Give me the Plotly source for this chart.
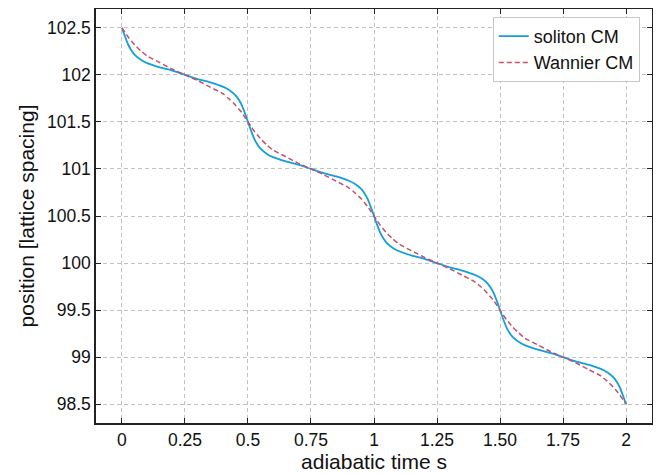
import plotly.graph_objects as go

# adiabatic time s
t_s = [
    0.0, 0.0125, 0.025, 0.0375, 0.05, 0.075, 0.1, 0.15, 0.2, 0.25, 0.3, 0.35, 0.4, 0.425, 0.45, 0.4625, 0.475, 0.4875,
    0.5, 0.5125, 0.525, 0.5375, 0.55, 0.575, 0.6, 0.65, 0.7, 0.75, 0.8, 0.85, 0.9, 0.925, 0.95, 0.9625, 0.975, 0.9875,
    1.0, 1.0125, 1.025, 1.0375, 1.05, 1.075, 1.1, 1.15, 1.2, 1.25, 1.3, 1.35, 1.4, 1.425, 1.45, 1.4625, 1.475, 1.4875,
    1.5, 1.5125, 1.525, 1.5375, 1.55, 1.575, 1.6, 1.65, 1.7, 1.75, 1.8, 1.85, 1.9, 1.925, 1.95, 1.9625, 1.975, 1.9875,
    2.0,
]

soliton_cm = [
    102.5, 102.405, 102.32, 102.26, 102.215, 102.16, 102.125, 102.08, 102.045, 102.0, 101.955, 101.92, 101.875, 101.84, 101.785, 101.74, 101.68, 101.595,
    101.5, 101.405, 101.32, 101.26, 101.215, 101.16, 101.125, 101.08, 101.045, 101.0, 100.955, 100.92, 100.875, 100.84, 100.785, 100.74, 100.68, 100.595,
    100.5, 100.405, 100.32, 100.26, 100.215, 100.16, 100.125, 100.08, 100.045, 100.0, 99.955, 99.92, 99.875, 99.84, 99.785, 99.74, 99.68, 99.595,
    99.5, 99.405, 99.32, 99.26, 99.215, 99.16, 99.125, 99.08, 99.045, 99.0, 98.955, 98.92, 98.875, 98.84, 98.785, 98.74, 98.68, 98.595,
    98.5,
]

wannier_cm = [
    102.5, 102.45, 102.40, 102.36, 102.32, 102.255, 102.20, 102.13, 102.06, 102.0, 101.94, 101.87, 101.80, 101.745, 101.68, 101.64, 101.60, 101.55,
    101.5, 101.45, 101.40, 101.36, 101.32, 101.255, 101.20, 101.13, 101.06, 101.0, 100.94, 100.87, 100.80, 100.745, 100.68, 100.64, 100.60, 100.55,
    100.5, 100.45, 100.40, 100.36, 100.32, 100.255, 100.20, 100.13, 100.06, 100.0, 99.94, 99.87, 99.80, 99.745, 99.68, 99.64, 99.60, 99.55,
    99.5, 99.45, 99.40, 99.36, 99.32, 99.255, 99.20, 99.13, 99.06, 99.0, 98.94, 98.87, 98.80, 98.745, 98.68, 98.64, 98.60, 98.55,
    98.5,
]

x_tick_vals = [0, 0.25, 0.5, 0.75, 1, 1.25, 1.5, 1.75, 2]
x_tick_text = ["0", "0.25", "0.5", "0.75", "1", "1.25", "1.50", "1.75", "2"]
y_tick_vals = [98.5, 99, 99.5, 100, 100.5, 101, 101.5, 102, 102.5]
y_tick_text = ["98.5", "99", "99.5", "100", "100.5", "101", "101.5", "102", "102.5"]

FONT = "Liberation Sans, Arial, Helvetica, sans-serif"

fig = go.Figure()
fig.add_trace(go.Scatter(
    x=t_s, y=soliton_cm, mode="lines", name="soliton CM",
    line=dict(color="#149fdb", width=1.8, shape="spline", smoothing=0.6),
))
fig.add_trace(go.Scatter(
    x=t_s, y=wannier_cm, mode="lines", name="Wannier CM",
    line=dict(color="#c74f68", width=1.5, dash="5px,3px", shape="spline", smoothing=0.6),
))

axis_common = dict(
    showline=True, linecolor="#222222", linewidth=1.5, mirror="ticks",
    ticks="inside", ticklen=5, tickwidth=1, tickcolor="#222222",
    showgrid=True, gridcolor="#c2c2c2", griddash="4px,3px", gridwidth=1,
    zeroline=False, automargin=False,
    tickfont=dict(family=FONT, size=17.5, color="#111111"),
)

fig.update_xaxes(
    range=[-0.103, 2.103], tickvals=x_tick_vals, ticktext=x_tick_text,
    title=dict(text="adiabatic time s", font=dict(family=FONT, size=21, color="#111111"), standoff=3),
    **axis_common,
)
fig.update_yaxes(
    range=[98.3, 102.7], tickvals=y_tick_vals, ticktext=y_tick_text,
    title=dict(text="position [lattice spacing]", font=dict(family=FONT, size=21, color="#111111"), standoff=7),
    **axis_common,
)

# the page places the figure 8px from the top-left corner (default body margin)
fig.update_layout(
    width=653, height=466,
    margin=dict(l=88, r=9, t=1, b=51),
    paper_bgcolor="white", plot_bgcolor="white",
    font=dict(family=FONT, size=17, color="#111111"),
    legend=dict(
        x=0.978, y=0.981, xanchor="right", yanchor="top",
        bgcolor="white", bordercolor="#c8c8c8", borderwidth=1,
        font=dict(family=FONT, size=18, color="#111111"),
        tracegroupgap=0, itemwidth=30,
    ),
    showlegend=True,
)

fig.write_html("out.html")
